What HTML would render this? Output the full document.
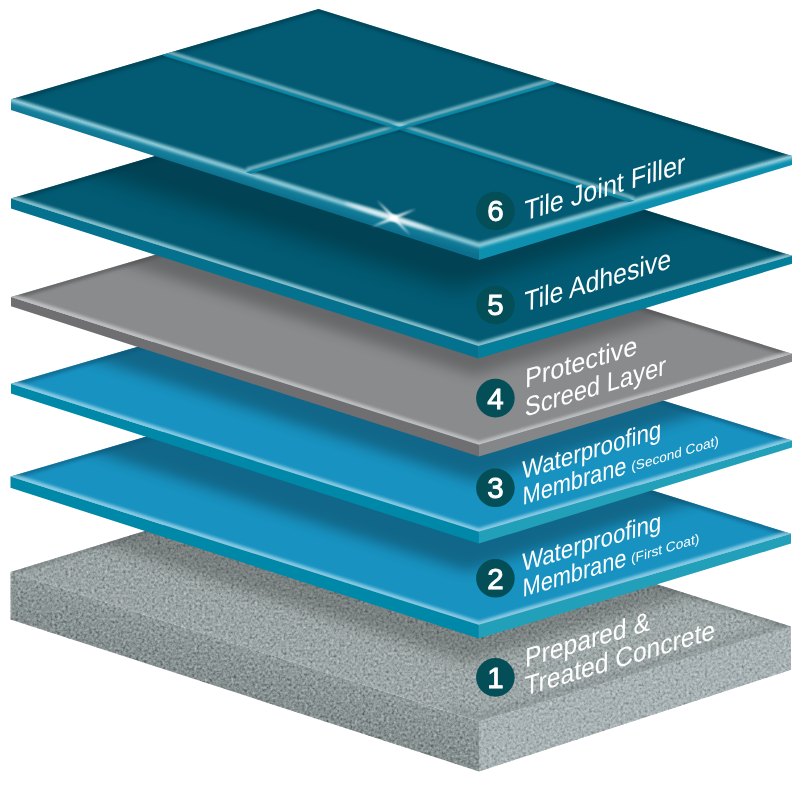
<!DOCTYPE html>
<html lang="en"><head><meta charset="utf-8"><title>Waterproofing system layers</title>
<style>
html,body{margin:0;padding:0;background:#fff;}
svg{display:block;font-family:"Liberation Sans",Arial,sans-serif;}
.num{font-size:29.5px;fill:#fff;stroke:#fff;stroke-width:0.9px;text-anchor:middle;}
</style></head><body>
<svg width="801" height="795" viewBox="0 0 801 795">
<defs>
<filter id="b2" x="-20%" y="-20%" width="140%" height="140%"><feGaussianBlur stdDeviation="1.6"/></filter>
<filter id="b3" x="-20%" y="-20%" width="140%" height="140%"><feGaussianBlur stdDeviation="3"/></filter>
<filter id="b05" x="-20%" y="-20%" width="140%" height="140%"><feGaussianBlur stdDeviation="0.6"/></filter>
<filter id="b15" x="-20%" y="-20%" width="140%" height="140%"><feGaussianBlur stdDeviation="1.3"/></filter>
<filter id="b1" x="-20%" y="-20%" width="140%" height="140%"><feGaussianBlur stdDeviation="0.9"/></filter>
<filter id="bs5" x="-20%" y="-20%" width="140%" height="140%"><feGaussianBlur stdDeviation="10"/></filter>
<filter id="bs" x="-20%" y="-20%" width="140%" height="140%"><feGaussianBlur stdDeviation="6.5"/></filter>
<filter id="conc" x="0" y="0" width="100%" height="100%" color-interpolation-filters="sRGB">
 <feTurbulence type="fractalNoise" baseFrequency="0.38" numOctaves="2" seed="7" result="n"/>
 <feColorMatrix in="n" type="matrix" values="0.6 0.6 0.6 0 -0.4  0.6 0.6 0.6 0 -0.4  0.6 0.6 0.6 0 -0.4  0 0 0 0 1" result="g"/>
 <feBlend in="g" in2="SourceGraphic" mode="soft-light" result="bl"/>
 <feComposite in="bl" in2="SourceGraphic" operator="in"/>
</filter>
<linearGradient id="g6l" gradientUnits="userSpaceOnUse" x1="245" y1="172" x2="241.2" y2="184.5"><stop offset="0" stop-color="#1c86a2"/><stop offset="1" stop-color="#0a708d"/></linearGradient>
<linearGradient id="c1left" gradientUnits="userSpaceOnUse" x1="245" y1="646.8" x2="231.1" y2="690.3"><stop offset="0" stop-color="#919b9c"/><stop offset="0.4" stop-color="#8b9596"/><stop offset="1" stop-color="#848e8f"/></linearGradient>
<linearGradient id="c1top" x1="0" y1="0" x2="1" y2="0"><stop offset="0" stop-color="#9aa3a3"/><stop offset="1" stop-color="#a0a9a9"/></linearGradient>

<clipPath id="cf6"><polygon points="11.0,99.3 318.5,9.0 792.0,156.0 479.0,244.8"/></clipPath>
<clipPath id="cl6"><polygon points="11.0,99.3 318.5,9.0 792.0,156.0 792.0,165.0 479.0,260.0 11.0,110.0"/></clipPath>
<clipPath id="cf5"><polygon points="11.0,198.4 318.5,108.0 792.0,255.8 478.5,346.0"/></clipPath>
<clipPath id="cl5"><polygon points="11.0,198.4 318.5,108.0 792.0,255.8 792.0,263.8 478.5,358.6 11.0,208.5"/></clipPath>
<clipPath id="cf4"><polygon points="11.0,297.0 318.5,207.0 792.0,353.8 478.8,444.8"/></clipPath>
<clipPath id="cl4"><polygon points="11.0,297.0 318.5,207.0 792.0,353.8 792.0,361.8 478.8,456.6 11.0,306.2"/></clipPath>
<clipPath id="cf3"><polygon points="11.0,383.8 318.5,294.0 792.0,440.5 478.8,531.8"/></clipPath>
<clipPath id="cl3"><polygon points="11.0,383.8 318.5,294.0 792.0,440.5 792.0,447.5 478.8,543.6 11.0,393.5"/></clipPath>
<clipPath id="cf2"><polygon points="10.5,476.4 318.5,386.0 791.0,533.8 478.8,624.8"/></clipPath>
<clipPath id="cl2"><polygon points="10.5,476.4 318.5,386.0 791.0,533.8 791.0,543.6 478.8,638.6 10.5,487.7"/></clipPath>
<clipPath id="cf1"><polygon points="10.5,572.0 318.5,478.0 791.0,626.4 479.0,721.5"/></clipPath>
<clipPath id="cl1"><polygon points="10.5,572.0 318.5,478.0 791.0,626.4 791.0,669.7 479.0,771.4 10.5,619.5"/></clipPath>
</defs>
<g id="layer1">
<g filter="url(#conc)">
<polygon points="10.5,572.0 479.0,721.5 479.0,771.4 10.5,619.5" fill="url(#c1left)"/>
<polygon points="479.0,721.5 791.0,626.4 791.0,669.7 479.0,771.4" fill="#a8b2b4"/>
<polygon points="10.5,572.0 318.5,478.0 791.0,626.4 479.0,721.5" fill="url(#c1top)"/>
</g>
<g clip-path="url(#cf1)"><polygon points="-79.5,485.9 468.8,662.6 861.0,543.3 861.0,243.6 -79.5,187.7" fill="#000" opacity="0.22" filter="url(#bs)"/></g>
<g clip-path="url(#cf1)">
<polyline points="10.5,572.0 318.5,478.0 791.0,626.4" fill="none" stroke="#50595b" stroke-width="7" opacity="0.3" filter="url(#b2)"/>
</g>
<g clip-path="url(#cf1)">
<polyline points="4.5,570.1 479.0,721.5 797.0,624.6" fill="none" stroke="#b5bdbe" stroke-width="4" opacity="0.3" filter="url(#b2)"/>
<polyline points="449.0,708.9 479.0,718.5 797.0,621.6" fill="none" stroke="#5a6466" stroke-width="9" opacity="0.22" filter="url(#b3)"/>
</g>
<circle cx="495.4" cy="677.4" r="19.3" fill="#034e57"/>
<text class="num" x="495.4" y="687.8" opacity="0.995">1</text>
<text transform="matrix(0.9140 -0.2742 -0.01 1.0 525.08 667.47)" font-size="27" fill="#fff" opacity="0.995">Prepared &amp;</text>
<text transform="matrix(0.9118 -0.2735 -0.01 1.0 524.46 695.70)" font-size="27" fill="#fff" opacity="0.995">Treated Concrete</text>
<g id="layer2">
<g>
<polygon points="10.5,476.4 478.8,624.8 478.8,638.6 10.5,487.7" fill="#0088a8"/>
<polygon points="478.8,624.8 791.0,533.8 791.0,543.6 478.8,638.6" fill="#22a0ba"/>
<polygon points="10.5,476.4 318.5,386.0 791.0,533.8 478.8,624.8" fill="#1892c1"/>
</g>
<g clip-path="url(#cf2)"><polygon points="-81.0,395.8 466.8,571.6 860.0,451.0 860.0,147.5 -81.0,93.5" fill="#000" opacity="0.29" filter="url(#bs)"/></g>
<g clip-path="url(#cf2)">
<polyline points="10.5,476.4 318.5,386.0 791.0,533.8" fill="none" stroke="#0e5578" stroke-width="7" opacity="0.55" filter="url(#b2)"/>
</g>
<g clip-path="url(#cf2)">
<polyline points="4.5,474.5 478.8,624.8 797.0,532.1" fill="none" stroke="#b4e0f0" stroke-width="7" opacity="0.72" filter="url(#b2)"/>
</g>
<circle cx="495.4" cy="578.3" r="19.3" fill="#034e57"/>
<text class="num" x="495.4" y="588.7" opacity="0.995">2</text>
<text transform="matrix(0.8756 -0.2627 -0.01 1.0 521.93 571.51)" font-size="25.5" fill="#fff" opacity="0.995">Waterproofing</text>
<text transform="matrix(0.8514 -0.2554 -0.01 1.0 522.62 597.09)" font-size="25.5" fill="#fff" opacity="0.995">Membrane</text>
<text transform="matrix(1.0116 -0.3035 -0.01 1.0 631.01 563.24)" font-size="13.5" fill="#fff" opacity="0.995">(First Coat)</text>
<g id="layer3">
<g>
<polygon points="11.0,383.8 478.8,531.8 478.8,543.6 11.0,393.5" fill="#0088a8"/>
<polygon points="478.8,531.8 792.0,440.5 792.0,447.5 478.8,543.6" fill="#22a0ba"/>
<polygon points="11.0,383.8 318.5,294.0 792.0,440.5 478.8,531.8" fill="#1892c1"/>
</g>
<g clip-path="url(#cf3)"><polygon points="-73.0,305.5 474.8,481.6 868.0,362.6 868.0,61.8 -73.0,6.2" fill="#000" opacity="0.29" filter="url(#bs)"/></g>
<g clip-path="url(#cf3)">
<polyline points="11.0,383.8 318.5,294.0 792.0,440.5" fill="none" stroke="#0e5578" stroke-width="7" opacity="0.55" filter="url(#b2)"/>
</g>
<g clip-path="url(#cf3)">
<polyline points="5.0,381.9 478.8,531.8 798.0,438.8" fill="none" stroke="#b4e0f0" stroke-width="7" opacity="0.72" filter="url(#b2)"/>
</g>
<circle cx="495.4" cy="487.8" r="19.3" fill="#034e57"/>
<text class="num" x="495.4" y="498.2" opacity="0.995">3</text>
<text transform="matrix(0.8756 -0.2627 -0.01 1.0 521.93 479.31)" font-size="25.5" fill="#fff" opacity="0.995">Waterproofing</text>
<text transform="matrix(0.8514 -0.2554 -0.01 1.0 522.62 504.89)" font-size="25.5" fill="#fff" opacity="0.995">Membrane</text>
<text transform="matrix(1.0049 -0.3015 -0.01 1.0 631.32 471.35)" font-size="13.5" fill="#fff" opacity="0.995">(Second Coat)</text>
<g id="layer4">
<g>
<polygon points="11.0,297.0 478.8,444.8 478.8,456.6 11.0,306.2" fill="#6f6f71"/>
<polygon points="478.8,444.8 792.0,353.8 792.0,361.8 478.8,456.6" fill="#858688"/>
<polygon points="11.0,297.0 318.5,207.0 792.0,353.8 478.8,444.8" fill="#8a8b8d"/>
</g>
<g clip-path="url(#cf4)"><polygon points="-73.0,199.8 474.5,375.6 868.0,256.6 868.0,-36.2 -73.0,-91.5" fill="#000" opacity="0.25" filter="url(#bs)"/></g>
<g clip-path="url(#cf4)">
<polyline points="11.0,297.0 318.5,207.0 792.0,353.8" fill="none" stroke="#4e4e50" stroke-width="7" opacity="0.55" filter="url(#b2)"/>
</g>
<g clip-path="url(#cf4)">
<polyline points="5.0,295.1 478.8,444.8 798.0,352.1" fill="none" stroke="#d4d5d7" stroke-width="7" opacity="0.7" filter="url(#b2)"/>
</g>
<circle cx="495.4" cy="398.1" r="19.3" fill="#034e57"/>
<text class="num" x="495.4" y="408.5" opacity="0.995">4</text>
<text transform="matrix(0.9356 -0.2807 -0.01 1.0 525.03 387.88)" font-size="27" fill="#fff" opacity="0.995">Protective</text>
<text transform="matrix(0.8791 -0.2637 -0.01 1.0 524.87 416.65)" font-size="27" fill="#fff" opacity="0.995">Screed Layer</text>
<g id="layer5">
<g>
<polygon points="11.0,198.4 478.5,346.0 478.5,358.6 11.0,208.5" fill="#04728f"/>
<polygon points="478.5,346.0 792.0,255.8 792.0,263.8 478.5,358.6" fill="#037e9b"/>
<polygon points="11.0,198.4 318.5,108.0 792.0,255.8 478.5,346.0" fill="#025b73"/>
</g>
<g clip-path="url(#cf5)"><polygon points="-93.0,114.4 455.0,290.0 848.0,170.7 848.0,-135.0 -93.0,-190.0" fill="#000" opacity="0.27" filter="url(#bs5)"/></g>
<g clip-path="url(#cf5)">
<polyline points="11.0,198.4 318.5,108.0 792.0,255.8" fill="none" stroke="#02394a" stroke-width="7" opacity="0.55" filter="url(#b2)"/>
</g>
<g clip-path="url(#cf5)">
<polyline points="5.0,196.5 478.5,346.0 798.0,254.1" fill="none" stroke="#a8dbe6" stroke-width="7" opacity="0.8" filter="url(#b2)"/>
</g>
<circle cx="495.4" cy="305" r="19.3" fill="#034e57"/>
<text class="num" x="495.4" y="315.4" opacity="0.995">5</text>
<text transform="matrix(0.8875 -0.2663 -0.01 1.0 524.25 311.79)" font-size="28" fill="#fff" opacity="0.995">Tile Adhesive</text>
<g id="layer6">
<g>
<polygon points="11.0,99.3 479.0,244.8 479.0,260.0 11.0,110.0" fill="url(#g6l)"/>
<polygon points="479.0,244.8 792.0,156.0 792.0,165.0 479.0,260.0" fill="#0d90af"/>
<polygon points="11.0,99.3 318.5,9.0 792.0,156.0 479.0,244.8" fill="#025b73"/>
</g>
<g clip-path="url(#cf6)">
<polyline points="11.0,99.3 318.5,9.0 792.0,156.0" fill="none" stroke="#02394a" stroke-width="7" opacity="0.55" filter="url(#b2)"/>
</g>
<g clip-path="url(#cl6)">
<polyline points="5.0,97.6 479.0,245.0 798.0,154.5" fill="none" stroke="#a8dbe6" stroke-width="4.6" opacity="0.85" filter="url(#b2)"/>
</g>
<g clip-path="url(#cf6)">
<line x1="163.5" y1="50.8" x2="634.2" y2="198.5" stroke="#b5e3ec" stroke-width="3.6" opacity="0.75" filter="url(#b2)"/>
<line x1="246.5" y1="169.8" x2="555.5" y2="79.0" stroke="#b5e3ec" stroke-width="3.6" opacity="0.75" filter="url(#b2)"/>
<line x1="163.5" y1="54.4" x2="634.2" y2="202.1" stroke="#0b8fae" stroke-width="3"/>
<line x1="163.5" y1="56.6" x2="634.2" y2="204.29999999999998" stroke="#023a4c" stroke-width="1.6" opacity="0.5" filter="url(#b1)"/>
<line x1="246.5" y1="173.4" x2="555.5" y2="82.6" stroke="#0b8fae" stroke-width="3"/>
<line x1="246.5" y1="175.6" x2="555.5" y2="84.8" stroke="#023a4c" stroke-width="1.6" opacity="0.5" filter="url(#b1)"/>
</g>
<g id="sparkle"><ellipse cx="389" cy="216.6" rx="47" ry="2.6" fill="#fff" opacity="0.75" filter="url(#b2)" transform="rotate(17.2 389 216.6)"/><polygon points="376.7,200.0 392.7,219.1 410.4,235.2 395.1,216.7" fill="#fff" opacity="0.95" filter="url(#b1)"/><polygon points="371.5,226.9 394.5,219.5 416.4,208.7 393.3,216.3" fill="#fff" opacity="0.95" filter="url(#b1)"/><circle cx="393.9" cy="217.9" r="3" fill="#fff" filter="url(#b2)"/></g>
<circle cx="495.4" cy="211" r="19.3" fill="#034e57"/>
<text class="num" x="495.4" y="221.4" opacity="0.995">6</text>
<text transform="matrix(0.8974 -0.2692 -0.01 1.0 524.24 220.79)" font-size="28" fill="#fff" opacity="0.995">Tile Joint Filler</text>
</svg></body></html>
